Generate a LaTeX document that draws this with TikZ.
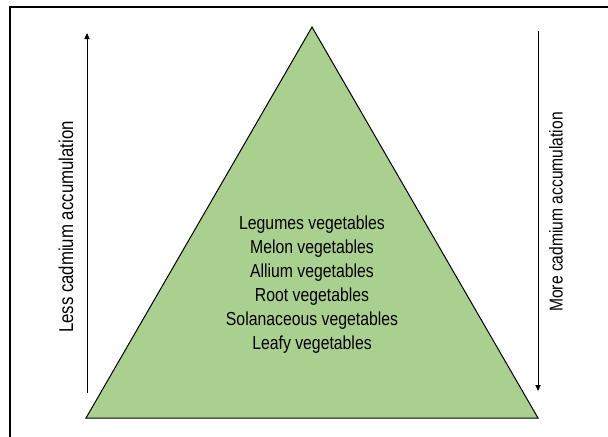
\documentclass[tikz,border=0pt]{standalone}
\usepackage{fontspec}
\setmainfont{Liberation Sans}[FakeStretch=0.84]
\usetikzlibrary{arrows.meta}
\definecolor{vegGreen}{HTML}{A9D08E}

\begin{document}
\begin{tikzpicture}[
  x=0.5pt, y=-0.5pt,
  >={Triangle[length=3pt,width=2.6pt]},
  font=\fontsize{9.4}{12}\selectfont,
  pyramid/.style={draw,line width=0.5pt,fill=vegGreen},
  trend/.style={->,line width=0.5pt},
  side/.style={rotate=90,inner sep=0pt,font=\fontsize{10}{12}\selectfont}
]
  \useasboundingbox (0,0) rectangle (608,436);
  \clip (0,0) rectangle (608,436);
  \draw[line width=0.6pt] (10,7) rectangle (620,450);

  % triangle corners
  \coordinate (apex) at (312,27);
  \coordinate (baseL) at (86,418);
  \coordinate (baseR) at (538,418);
  \draw[pyramid] (apex) -- (baseR) -- (baseL) -- cycle;

  \node[align=center] (veg) at (312,285)
    {Legumes vegetables\\Melon vegetables\\Allium vegetables\\
     Root vegetables\\Solanaceous vegetables\\Leafy vegetables};

  % side arrows
  \coordinate (lessTop) at (87,33);
  \coordinate (lessBot) at (87,393);
  \draw[trend] (lessBot) -- (lessTop);
  \node[side] (less) at (66,227) {Less cadmium accumulation};

  \coordinate (moreTop) at (538,31);
  \coordinate (moreBot) at (538,391);
  \draw[trend] (moreTop) -- (moreBot);
  \node[side,font=\fontsize{9.3}{12}\selectfont] (more) at (556,212)
    {More cadmium accumulation};
\end{tikzpicture}
\end{document}
